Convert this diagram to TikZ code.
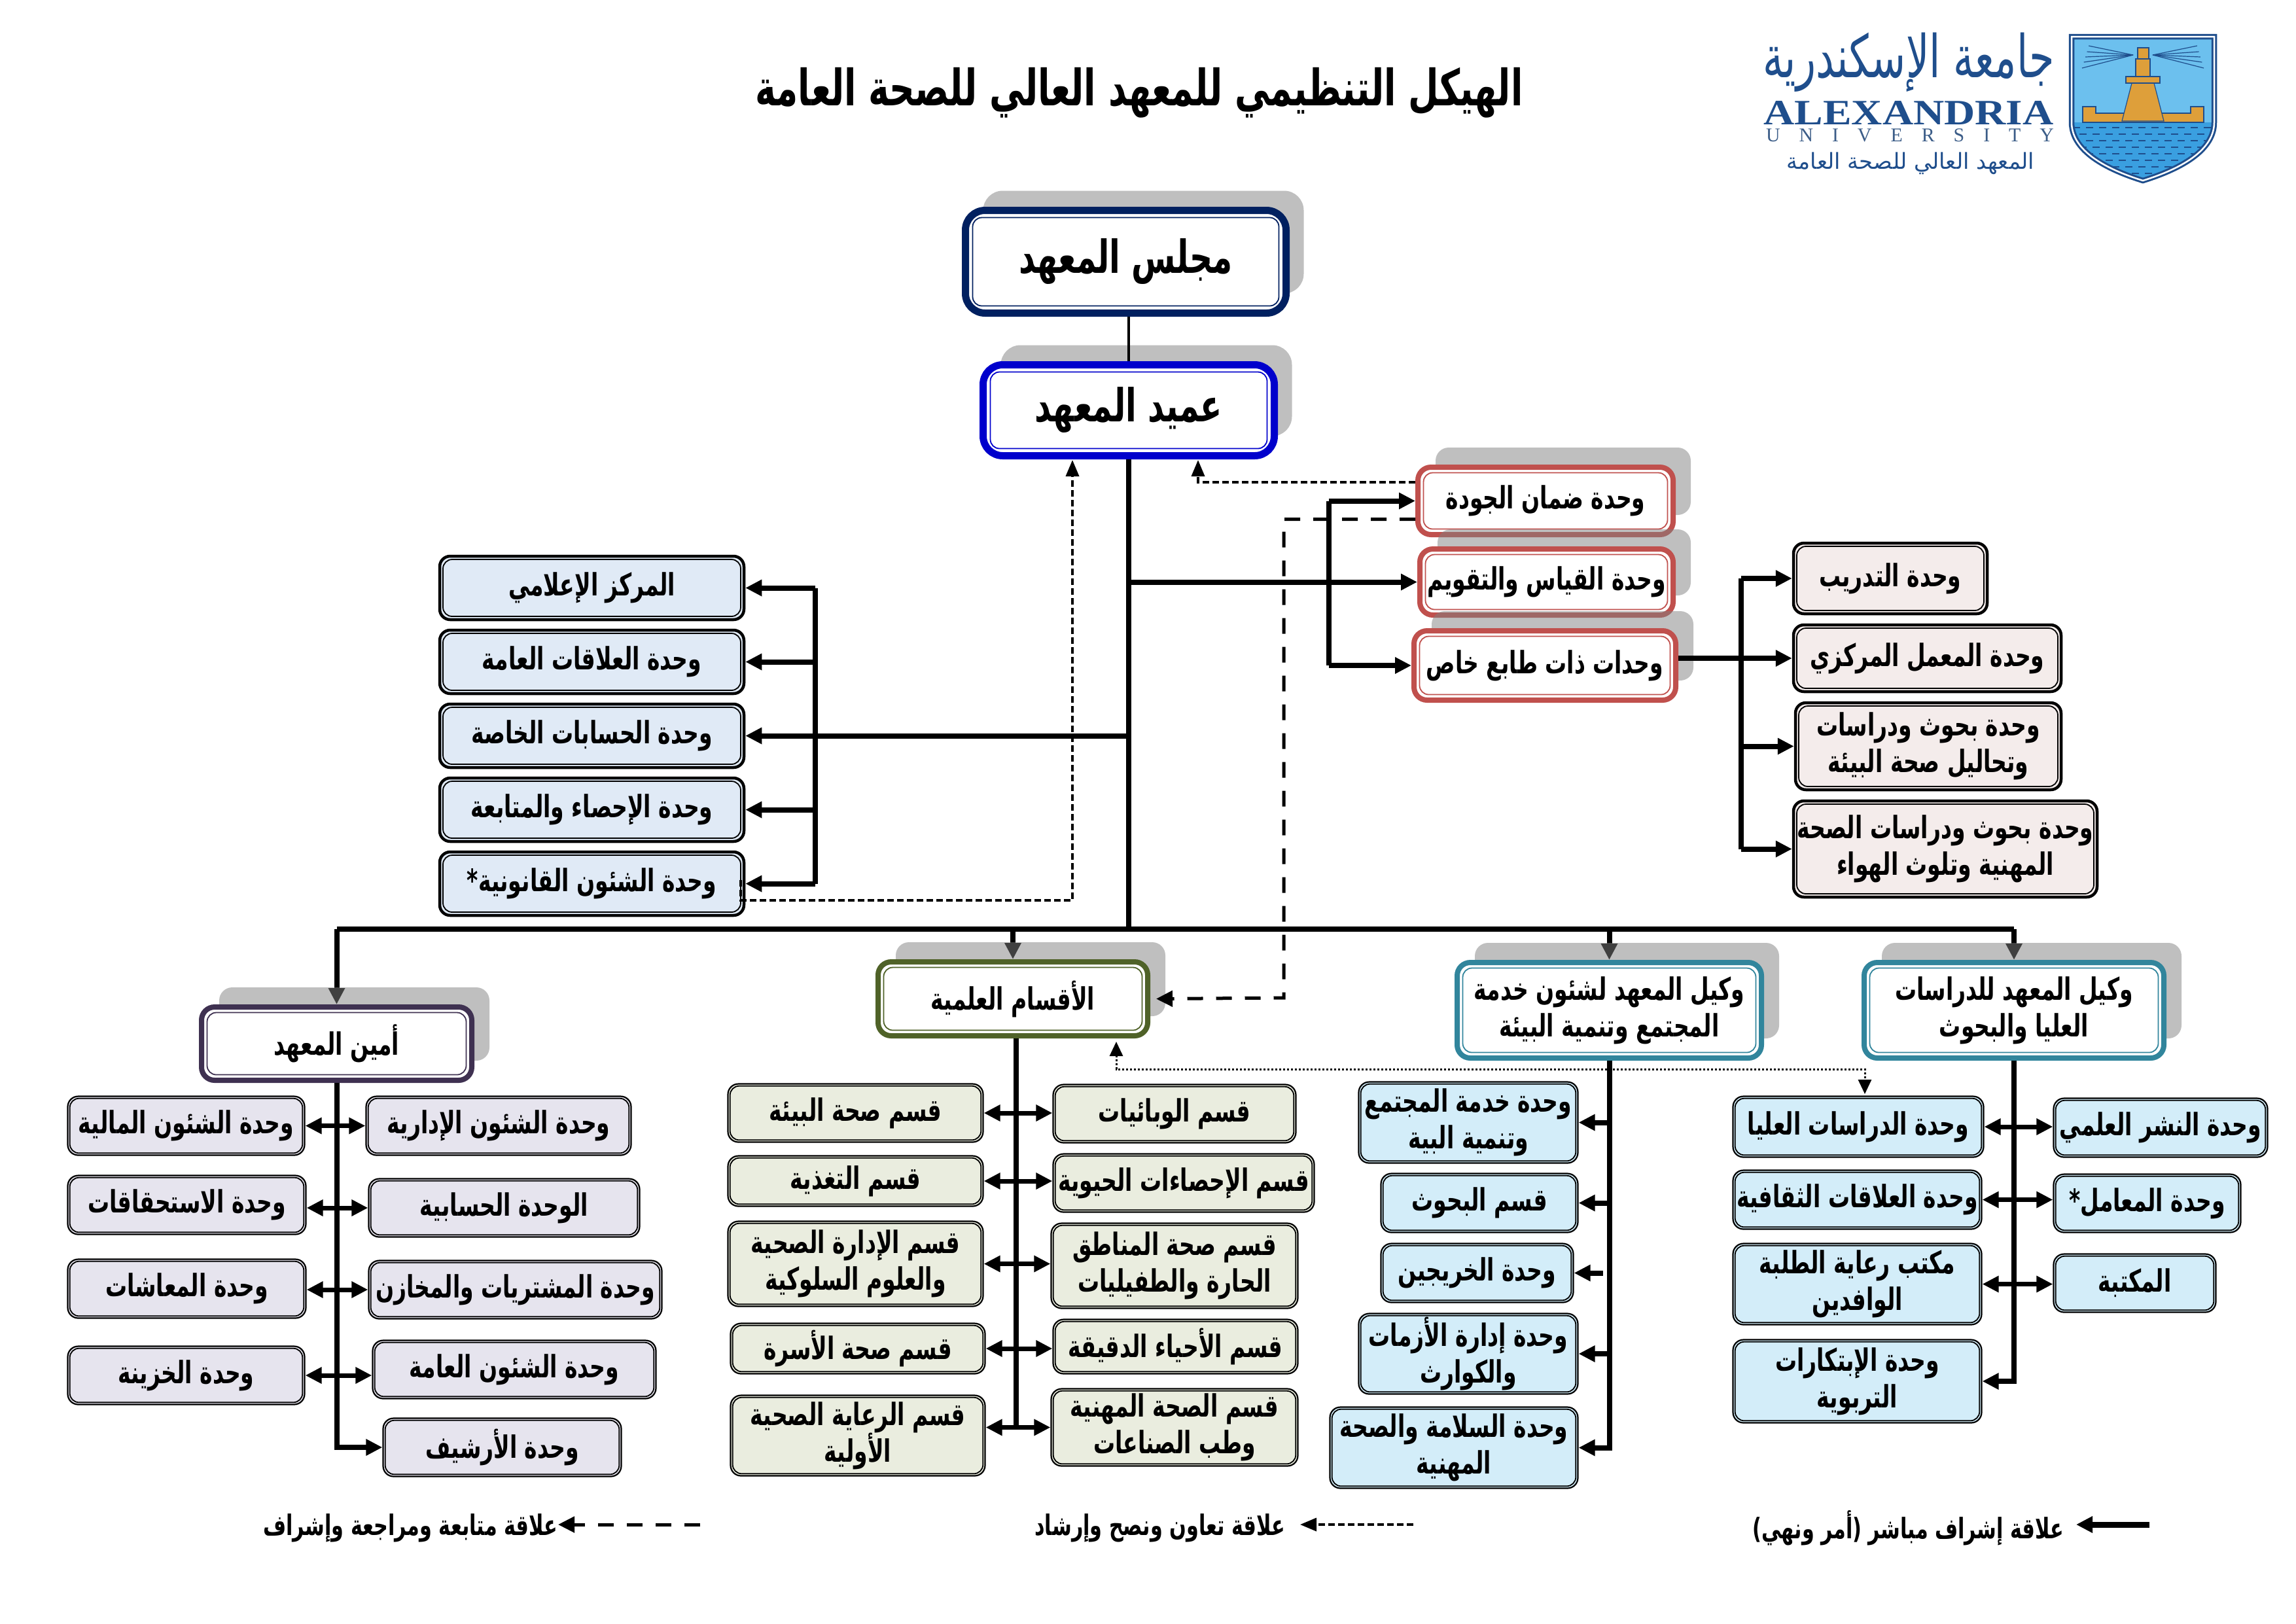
\documentclass[tikz,border=0pt]{standalone}
\usepackage{xcolor}
\usepackage{fontspec}
\usepackage{tikz}
\usetikzlibrary{arrows.meta, positioning, shadows, backgrounds}

\TeXXeTstate=1
\newfontfamily\arabicfont[Script=Arabic,FakeStretch=.7]{DejaVu Sans}
\newfontfamily\logoarabic[Script=Arabic]{DejaVu Sans}
\newfontfamily\logolatin[FakeStretch=1.2]{Liberation Serif}
\newfontfamily\logospaced[LetterSpace=97]{Liberation Serif}
\newcommand{\artext}[1]{\beginR #1\endR}
\newcommand{\shieldoutline}{(31.66,-0.56) -- (33.84,-0.56) -- (33.84,-1.87) .. controls (33.84,-2.35) and (33.2,-2.62) .. (32.75,-2.76) .. controls (32.3,-2.62) and (31.66,-2.35) .. (31.66,-1.87) -- cycle}

\definecolor{councilblue}{HTML}{002060}
\definecolor{deanblue}{HTML}{0000CC}
\definecolor{unitred}{HTML}{C0504D}
\definecolor{secretarypurple}{HTML}{3F3151}
\definecolor{scienceolive}{HTML}{4F6228}
\definecolor{deputyteal}{HTML}{31859C}
\definecolor{pinkfill}{HTML}{F4ECEB}
\definecolor{bluefill}{HTML}{E0EAF6}
\definecolor{lavenderfill}{HTML}{E6E4EE}
\definecolor{olivefill}{HTML}{EAEDDF}
\definecolor{skyfill}{HTML}{D3EDF9}
\definecolor{logoblue}{HTML}{1F4E8C}
\definecolor{logosky}{HTML}{6CC0EE}
\definecolor{logosea}{HTML}{3A9FE0}
\definecolor{logogold}{HTML}{DE9F3A}

\begin{document}
\begin{tikzpicture}[
        boxsize/.style 2 args={minimum width=#1cm, minimum height=#2cm},
        innerline/.style 2 args={
            path picture={
                \draw[#1, line width=.018cm, rounded corners=.14cm]
                    ([xshift=#2,yshift=-#2]path picture bounding box.north west) rectangle
                    ([xshift=-#2,yshift=#2]path picture bounding box.south east);
            }
        },
        box/.style={
            draw,
            line width=.022cm,
            rounded corners=.16cm,
            align=center,
            inner sep=0pt,
            font=\arabicfont\bfseries\fontsize{13.4}{16}\selectfont
        },
        framebox/.style={box, line width=.045cm, innerline={black}{.05cm}},
        lowbox/.style={box, innerline={black}{.032cm}},
        headbox/.style={
            box,
            draw=#1,
            fill=white,
            line width=.08cm,
            rounded corners=.2cm,
            innerline={#1}{.085cm},
            drop shadow={shadow xshift=.27cm, shadow yshift=.3cm, fill=gray, opacity=.5}
        },
        topbox/.style={headbox=#1, line width=.11cm, rounded corners=.3cm, innerline={#1}{.11cm}},
        legendtext/.style={inner sep=0pt, anchor=east, font=\arabicfont\bfseries\fontsize{12.3}{14}\selectfont},
        arrow/.style={-{Triangle[length=.25cm, width=.24cm]}, line width=.08cm},
        twoway/.style={{Triangle[length=.25cm, width=.24cm]}-{Triangle[length=.25cm, width=.24cm]}, line width=.07cm},
        trunk/.style={line width=.08cm},
        follow/.style={-{Triangle[length=.25cm, width=.24cm]}, line width=.05cm, dash pattern=on .24cm off .2cm},
        coop/.style={-{Triangle[length=.25cm, width=.2cm]}, line width=.035cm, dash pattern=on .1cm off .05cm},
        advise/.style={{Triangle[length=.22cm, width=.2cm]}-{Triangle[length=.22cm, width=.2cm]}, line width=.03cm, dash pattern=on .03cm off .03cm}
    ]
    \useasboundingbox (0,-24.81) rectangle (35.09,0);

    \node[font=\arabicfont\bfseries\fontsize{21.8}{25}\selectfont, inner sep=0pt] (title) at (17.41,-1.42) {\artext{الهيكل التنظيمي للمعهد العالي للصحة العامة}};

    % logo
    \node[text=logoblue, inner sep=0pt, font=\logoarabic\fontsize{17.7}{20}\selectfont] (logohead) at (29.17,-0.95) {\scalebox{1}[1.45]{\artext{جامعة الإسكندرية}}};
    \node[text=logoblue, inner sep=0pt, font=\logolatin\bfseries\fontsize{15.5}{16}\selectfont] (logoname) at (29.17,-1.73) {ALEXANDRIA};
    \node[text=logoblue!70!gray, inner sep=0pt, font=\logospaced\fontsize{8.5}{9}\selectfont] (logouni) at (29.19,-2.07) {UNIVERSITY};
    \node[text=logoblue, inner sep=0pt, font=\logoarabic\fontsize{9.6}{11}\selectfont] (logosub) at (29.2,-2.5) {\artext{المعهد العالي للصحة العامة}};
    \fill[logosky] \shieldoutline;
    \begin{scope}
        \clip \shieldoutline;
        \fill[logosea] (31.6,-1.87) rectangle (33.9,-2.8);
        \foreach \row in {0,...,7}
            \foreach \col in {0,...,11}
                \draw[logoblue, line width=.018cm] ({31.68+.2*\col+.1*mod(\row,2)},{-1.95-.1*\row}) -- ++(.11,0);
    \end{scope}
    \foreach \dy in {-.2,-.11,-.03,.05,.14}{
        \draw[logoblue, line width=.012cm] (32.6,-.84) -- (31.88+\dy*.3,-.84+\dy);
        \draw[logoblue, line width=.012cm] (32.9,-.84) -- (33.62-\dy*.3,-.84+\dy);
    }
    \fill[logogold, draw=logoblue, line width=.012cm] (31.83,-1.87) -- (31.83,-1.63) -- (32.03,-1.63) -- (32.03,-1.73) -- (33.48,-1.73) -- (33.48,-1.63) -- (33.68,-1.63) -- (33.68,-1.87) -- cycle;
    \fill[logogold, draw=logoblue, line width=.012cm] (32.43,-1.85) -- (32.58,-1.27) -- (32.92,-1.27) -- (33.07,-1.85) -- cycle;
    \fill[logogold, draw=logoblue, line width=.012cm] (32.49,-1.17) rectangle (33.01,-1.27);
    \fill[logogold, draw=logoblue, line width=.012cm] (32.64,-.9) rectangle (32.86,-1.17);
    \fill[logogold, draw=logoblue, line width=.012cm] (32.67,-.73) rectangle (32.84,-.9);
    \draw[logoblue, line width=.03cm, double=white, double distance=.025cm] \shieldoutline;

    % top of the tree
    \node[topbox=councilblue, boxsize={4.90}{1.57}] (council) at (17.205,-4.00) {\fontsize{19.8}{22}\selectfont\artext{مجلس المعهد}};
    \node[topbox=deanblue, boxsize={4.45}{1.39}] (dean) at (17.25,-6.27) {\fontsize{19.8}{22}\selectfont\artext{عميد المعهد}};

    \node[headbox=unitred, boxsize={3.90}{1.03}] (quality) at (23.62,-7.655) {\artext{وحدة ضمان الجودة}};
    \node[headbox=unitred, boxsize={3.87}{1.01}] (measure) at (23.635,-8.895) {\artext{وحدة القياس والتقويم}};
    \node[headbox=unitred, boxsize={4.00}{1.06}] (special) at (23.61,-10.17) {\artext{وحدات ذات طابع خاص}};

    \node[framebox, fill=pinkfill, boxsize={2.96}{1.08}] (training) at (28.89,-8.84) {\artext{وحدة التدريب}};
    \node[framebox, fill=pinkfill, boxsize={4.09}{1.02}] (lab) at (29.455,-10.06) {\artext{وحدة المعمل المركزي}};
    \node[framebox, fill=pinkfill, boxsize={4.06}{1.33}] (envres) at (29.47,-11.405) {\artext{وحدة بحوث ودراسات}\\\artext{وتحاليل صحة البيئة}};
    \node[framebox, fill=pinkfill, boxsize={4.64}{1.47}] (occres) at (29.73,-12.975) {\artext{وحدة بحوث ودراسات الصحة}\\\artext{المهنية وتلوث الهواء}};

    \node[framebox, fill=bluefill, boxsize={4.65}{.97}] (media) at (9.045,-8.985) {\artext{المركز الإعلامي}};
    \node[framebox, fill=bluefill, boxsize={4.65}{.97}, below=.115cm of media] (relations) {\artext{وحدة العلاقات العامة}};
    \node[framebox, fill=bluefill, boxsize={4.65}{.97}, below=.115cm of relations] (accounts) {\artext{وحدة الحسابات الخاصة}};
    \node[framebox, fill=bluefill, boxsize={4.65}{.97}, below=.115cm of accounts] (stats) {\artext{وحدة الإحصاء والمتابعة}};
    \node[framebox, fill=bluefill, boxsize={4.65}{.97}, below=.115cm of stats] (legal) {\artext{وحدة الشئون القانونية*}};

    % secretary
    \node[headbox=secretarypurple, boxsize={4.13}{1.12}] (secretary) at (5.145,-15.95) {\artext{أمين المعهد}};
    \node[lowbox, fill=lavenderfill, boxsize={3.62}{.90}] (finance) at (2.845,-17.205) {\artext{وحدة الشئون المالية}};
    \node[lowbox, fill=lavenderfill, boxsize={3.64}{.90}] (dues) at (2.855,-18.415) {\artext{وحدة الاستحقاقات}};
    \node[lowbox, fill=lavenderfill, boxsize={3.64}{.90}] (pensions) at (2.855,-19.695) {\artext{وحدة المعاشات}};
    \node[lowbox, fill=lavenderfill, boxsize={3.62}{.89}] (treasury) at (2.845,-21.02) {\artext{وحدة الخزينة}};
    \node[lowbox, fill=lavenderfill, boxsize={4.05}{.90}] (admin) at (7.62,-17.205) {\artext{وحدة الشئون الإدارية}};
    \node[lowbox, fill=lavenderfill, boxsize={4.14}{.89}] (bookkeeping) at (7.705,-18.46) {\artext{الوحدة الحسابية}};
    \node[lowbox, fill=lavenderfill, boxsize={4.48}{.89}] (purchases) at (7.875,-19.71) {\artext{وحدة المشتريات والمخازن}};
    \node[lowbox, fill=lavenderfill, boxsize={4.33}{.89}] (general) at (7.86,-20.93) {\artext{وحدة الشئون العامة}};
    \node[lowbox, fill=lavenderfill, boxsize={3.64}{.89}] (archive) at (7.675,-22.12) {\artext{وحدة الأرشيف}};

    % departments
    \node[headbox=scienceolive, boxsize={4.12}{1.13}] (science) at (15.48,-15.265) {\artext{الأقسام العلمية}};
    \node[lowbox, fill=olivefill, boxsize={3.90}{.89}] (envhealth) at (13.075,-17.01) {\artext{قسم صحة البيئة}};
    \node[lowbox, fill=olivefill, boxsize={3.90}{.77}] (nutrition) at (13.075,-18.05) {\artext{قسم التغذية}};
    \node[lowbox, fill=olivefill, boxsize={3.90}{1.30}] (hadmin) at (13.075,-19.315) {\artext{قسم الإدارة الصحية}\\\artext{والعلوم السلوكية}};
    \node[lowbox, fill=olivefill, boxsize={3.89}{.77}] (family) at (13.11,-20.61) {\artext{قسم صحة الأسرة}};
    \node[lowbox, fill=olivefill, boxsize={3.89}{1.23}] (primary) at (13.11,-21.94) {\artext{قسم الرعاية الصحية}\\\artext{الأولية}};
    \node[lowbox, fill=olivefill, boxsize={3.71}{.89}] (epidem) at (17.95,-17.02) {\artext{قسم الوبائيات}};
    \node[lowbox, fill=olivefill, boxsize={3.99}{.89}] (biostat) at (18.09,-18.08) {\artext{قسم الإحصاءات الحيوية}};
    \node[lowbox, fill=olivefill, boxsize={3.77}{1.30}] (tropical) at (17.95,-19.345) {\artext{قسم صحة المناطق}\\\artext{الحارة والطفيليات}};
    \node[lowbox, fill=olivefill, boxsize={3.74}{.83}] (microbio) at (17.965,-20.58) {\artext{قسم الأحياء الدقيقة}};
    \node[lowbox, fill=olivefill, boxsize={3.77}{1.18}] (occhealth) at (17.95,-21.815) {\artext{قسم الصحة المهنية}\\\artext{وطب الصناعات}};

    % vice deans
    \node[headbox=deputyteal, boxsize={4.65}{1.46}] (commvp) at (24.595,-15.44) {\artext{وكيل المعهد لشئون خدمة}\\\artext{المجتمع وتنمية البيئة}};
    \node[headbox=deputyteal, boxsize={4.58}{1.46}] (gradvp) at (30.78,-15.44) {\artext{وكيل المعهد للدراسات}\\\artext{العليا والبحوث}};

    \node[lowbox, fill=skyfill, boxsize={3.35}{1.24}] (service) at (22.44,-17.155) {\artext{وحدة خدمة المجتمع}\\\artext{وتنمية البية}};
    \node[lowbox, fill=skyfill, boxsize={3.01}{.90}] (research) at (22.61,-18.385) {\artext{قسم البحوث}};
    \node[lowbox, fill=skyfill, boxsize={2.94}{.90}] (alumni) at (22.575,-19.455) {\artext{وحدة الخريجين}};
    \node[lowbox, fill=skyfill, boxsize={3.35}{1.23}] (crisis) at (22.44,-20.69) {\artext{وحدة إدارة الأزمات}\\\artext{والكوارث}};
    \node[lowbox, fill=skyfill, boxsize={3.79}{1.24}] (safety) at (22.22,-22.125) {\artext{وحدة السلامة والصحة}\\\artext{المهنية}};

    \node[lowbox, fill=skyfill, boxsize={3.83}{.93}] (postgrad) at (28.40,-17.22) {\artext{وحدة الدراسات العليا}};
    \node[lowbox, fill=skyfill, boxsize={3.80}{.90}] (cultural) at (28.385,-18.335) {\artext{وحدة العلاقات الثقافية}};
    \node[lowbox, fill=skyfill, boxsize={3.80}{1.24}] (students) at (28.385,-19.625) {\artext{مكتب رعاية الطلبة}\\\artext{الوافدين}};
    \node[lowbox, fill=skyfill, boxsize={3.80}{1.27}] (innovation) at (28.385,-21.11) {\artext{وحدة الإبتكارات}\\\artext{التربوية}};
    \node[lowbox, fill=skyfill, boxsize={3.27}{.90}] (publishing) at (33.02,-17.235) {\artext{وحدة النشر العلمي}};
    \node[lowbox, fill=skyfill, boxsize={2.86}{.89}] (labs) at (32.815,-18.39) {\artext{وحدة المعامل*}};
    \node[lowbox, fill=skyfill, boxsize={2.48}{.89}] (library) at (32.625,-19.61) {\artext{المكتبة}};

    % legend
    \node[legendtext] (legenddirect) at (31.55,-23.35) {\artext{علاقة إشراف مباشر (أمر ونهي)}};
    \node[legendtext] (legendcoop) at (19.65,-23.35) {\artext{علاقة تعاون ونصح وإرشاد}};
    \node[legendtext] (legendfollow) at (8.53,-23.35) {\artext{علاقة متابعة ومراجعة وإشراف}};
    \coordinate (directend) at (32.85,-23.3);
    \coordinate (coopend) at (21.6,-23.3);
    \coordinate (followend) at (10.7,-23.3);
    \draw[arrow, line width=.09cm] (directend) -- (31.73,-23.3);
    \draw[coop] (coopend) -- (19.87,-23.3);
    \draw[follow] (followend) -- (8.53,-23.3);

    % helper points of the connectors
    \coordinate (bar) at (17.25,-14.2);
    \coordinate (leftbus) at (12.46,-11.28);
    \coordinate (unitbus) at (20.31,-8.9);
    \coordinate (rightbus) at (26.61,-11);
    \coordinate (scibus) at (15.53,-21.79);
    \coordinate (deanleft) at (16.39,-7.03);
    \coordinate (deanright) at (18.31,-7.03);
    \coordinate (legalstub) at (11.32,-13.45);
    \coordinate (legalturn) at (11.32,-13.76);
    \coordinate (dashturn) at (19.62,-15.25);
    \coordinate (dotleft) at (17.06,-15.92);
    \coordinate (dotright) at (28.5,-16.72);
    \coordinate (dotrow) at (20,-16.34);

    % the arrows that run under a shadow
    \begin{scope}[on background layer]
        \draw[arrow] (bar -| secretary.north) -- (secretary.north);
        \draw[arrow] (bar -| science.north) -- (science.north);
        \draw[arrow] (bar -| commvp.north) -- (commvp.north);
        \draw[arrow] (bar -| gradvp.north) -- (gradvp.north);
    \end{scope}

    \draw[trunk, line width=.035cm] (dean.north) -- (dean.north |- council.south);
    \draw[trunk] (dean.south) -- (bar);
    \draw[trunk] (bar -| secretary.north) -- (bar -| gradvp.north);

    \draw[trunk] (leftbus |- media.east) -- (leftbus |- legal.east);
    \draw[arrow] (leftbus |- media.east) -- (media.east);
    \draw[arrow] (leftbus |- relations.east) -- (relations.east);
    \draw[arrow] (dean.south |- accounts.east) -- (accounts.east);
    \draw[arrow] (leftbus |- stats.east) -- (stats.east);
    \draw[arrow] (leftbus |- legal.east) -- (legal.east);

    \draw[trunk] (unitbus |- quality.west) -- (unitbus |- special.west);
    \draw[arrow] (unitbus |- quality.west) -- (quality.west);
    \draw[arrow] (dean.south |- measure.west) -- (measure.west);
    \draw[arrow] (unitbus |- special.west) -- (special.west);

    \draw[trunk] (rightbus |- training.west) -- (rightbus |- occres.west);
    \draw[arrow] (rightbus |- training.west) -- (training.west);
    \draw[arrow] (special.east |- lab.west) -- (lab.west);
    \draw[arrow] (rightbus |- envres.west) -- (envres.west);
    \draw[arrow] (rightbus |- occres.west) -- (occres.west);

    \draw[arrow] (secretary.south) |- (archive.west);
    \draw[twoway] (finance.east) -- (finance.east -| admin.west);
    \draw[twoway] (dues.east |- bookkeeping.west) -- (bookkeeping.west);
    \draw[twoway] (pensions.east |- purchases.west) -- (purchases.west);
    \draw[twoway] (treasury.east) -- (treasury.east -| general.west);

    \draw[trunk] (scibus |- science.south) -- (scibus);
    \draw[twoway] (envhealth.east) -- (envhealth.east -| epidem.west);
    \draw[twoway] (nutrition.east) -- (nutrition.east -| biostat.west);
    \draw[twoway] (hadmin.east) -- (hadmin.east -| tropical.west);
    \draw[twoway] (family.east) -- (family.east -| microbio.west);
    \draw[twoway] (primary.east |- occhealth.west) -- (occhealth.west);

    \draw[arrow] (commvp.south) |- (safety.east);
    \draw[arrow] (commvp.south |- service.east) -- (service.east);
    \draw[arrow] (commvp.south |- research.east) -- (research.east);
    \draw[arrow] ([xshift=-.1cm]commvp.south |- alumni.east) -- (alumni.east);
    \draw[arrow] (commvp.south |- crisis.east) -- (crisis.east);

    \draw[arrow] (gradvp.south) |- (innovation.east);
    \draw[twoway] (postgrad.east) -- (postgrad.east -| publishing.west);
    \draw[twoway] (cultural.east) -- (cultural.east -| labs.west);
    \draw[twoway] (students.east) -- (students.east -| library.west);

    \draw[follow] ([yshift=-.28cm]quality.west) -| (dashturn) -- ([xshift=.09cm]science.east);
    \draw[coop] ([yshift=.285cm]quality.west) -| (deanright);
    \draw[coop] (legalstub) -- (legalturn) -| (deanleft);
    \draw[advise] (dotleft) -- (dotleft |- dotrow) -- (dotright |- dotrow) -- (dotright);
\end{tikzpicture}
\end{document}
